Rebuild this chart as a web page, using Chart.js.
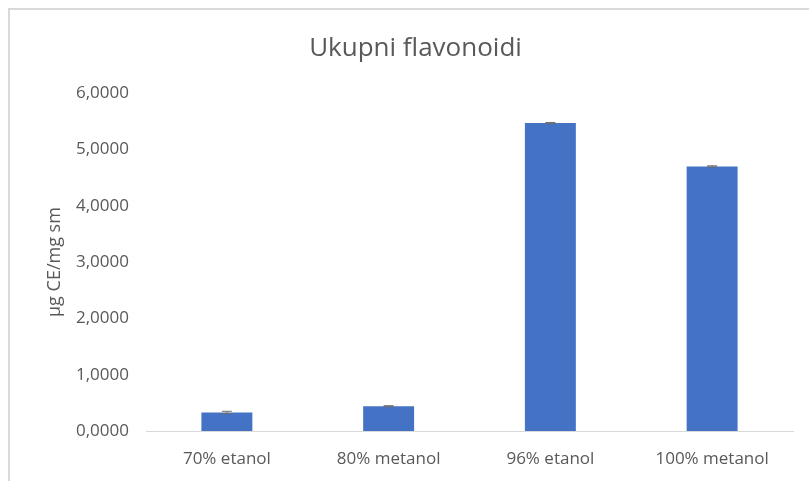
<!DOCTYPE html>
<html>
<head>
<meta charset="utf-8">
<script src="https://cdn.jsdelivr.net/npm/chart.js@4/dist/chart.umd.min.js"></script>
<style>
  html, body { margin: 0; padding: 0; background: #fff; }
  #wrap { width: 809px; height: 481px; position: relative; }
</style>
</head>
<body>
<div id="wrap"><canvas id="chart"></canvas></div>
<script>
const categories = ['70% etanol', '80% metanol', '96% etanol', '100% metanol'];
const values = [0.33, 0.44, 5.47, 4.70];
const errors = [0.02, 0.01, 0.01, 0.01];
const yTicks = [0, 1, 2, 3, 4, 5, 6];

const textColor = '#595959';

// frame lines of the chart box (top + left only visible in reference)
const framePlugin = {
  id: 'frame',
  beforeDraw(chart) {
    const ctx = chart.ctx;
    ctx.save();
    ctx.strokeStyle = '#d9d9d9';
    ctx.lineWidth = 2;
    ctx.beginPath();
    ctx.moveTo(9, chart.height);
    ctx.lineTo(9, 9);
    ctx.lineTo(chart.width, 9);
    ctx.stroke();
    ctx.restore();
  }
};

const errorBarPlugin = {
  id: 'errorBars',
  afterDatasetsDraw(chart) {
    const ctx = chart.ctx;
    const meta = chart.getDatasetMeta(0);
    const y = chart.scales.y;
    ctx.save();
    ctx.strokeStyle = '#6f6f6f';
    ctx.lineWidth = 1;
    meta.data.forEach((bar, i) => {
      const top = y.getPixelForValue(values[i] + errors[i]);
      const bot = y.getPixelForValue(values[i] - errors[i]);
      ctx.beginPath();
      ctx.moveTo(bar.x, top);
      ctx.lineTo(bar.x, bot);
      ctx.moveTo(bar.x - 5, top);
      ctx.lineTo(bar.x + 5, top);
      ctx.moveTo(bar.x - 5, bot);
      ctx.lineTo(bar.x + 5, bot);
      ctx.stroke();
    });
    ctx.restore();
  }
};

new Chart(document.getElementById('chart'), {
  type: 'bar',
  data: {
    labels: categories,
    datasets: [{
      data: values,
      backgroundColor: '#4472C4',
      borderWidth: 0,
      categoryPercentage: 1,
      barPercentage: 0.315
    }]
  },
  options: {
    responsive: true,
    maintainAspectRatio: false,
    animation: false,
    layout: { padding: { left: 38, right: 16, top: 0, bottom: 10 } },
    plugins: {
      legend: { display: false },
      tooltip: { enabled: false },
      title: {
        display: true,
        text: 'Ukupni flavonoidi',
        color: textColor,
        font: { family: "'Open Sans', sans-serif", size: 26, weight: 'normal' },
        padding: { top: 33, bottom: 29 }
      }
    },
    scales: {
      y: {
        min: 0,
        max: 6,
        afterBuildTicks(scale) {
          scale.ticks = yTicks.map(v => ({ value: v }));
        },
        afterFit(scale) { scale.width = 108; },
        grid: { display: false, drawTicks: false },
        border: { display: false },
        ticks: {
          color: textColor,
          padding: 17,
          font: { family: "'Open Sans', sans-serif", size: 17 },
          callback: v => v.toFixed(4).replace('.', ',')
        },
        title: {
          display: true,
          text: 'µg CE/mg sm',
          color: textColor,
          font: { family: "'Open Sans', sans-serif", size: 18 },
          padding: { top: 6, bottom: 0 }
        }
      },
      x: {
        afterFit(scale) { scale.height = 40; },
        grid: { display: false, drawTicks: false },
        border: { color: '#d9d9d9', width: 1 },
        ticks: {
          color: textColor,
          padding: 18,
          maxRotation: 0,
          font: { family: "'Open Sans', sans-serif", size: 17 }
        }
      }
    }
  },
  plugins: [framePlugin, errorBarPlugin]
});
</script>
</body>
</html>
